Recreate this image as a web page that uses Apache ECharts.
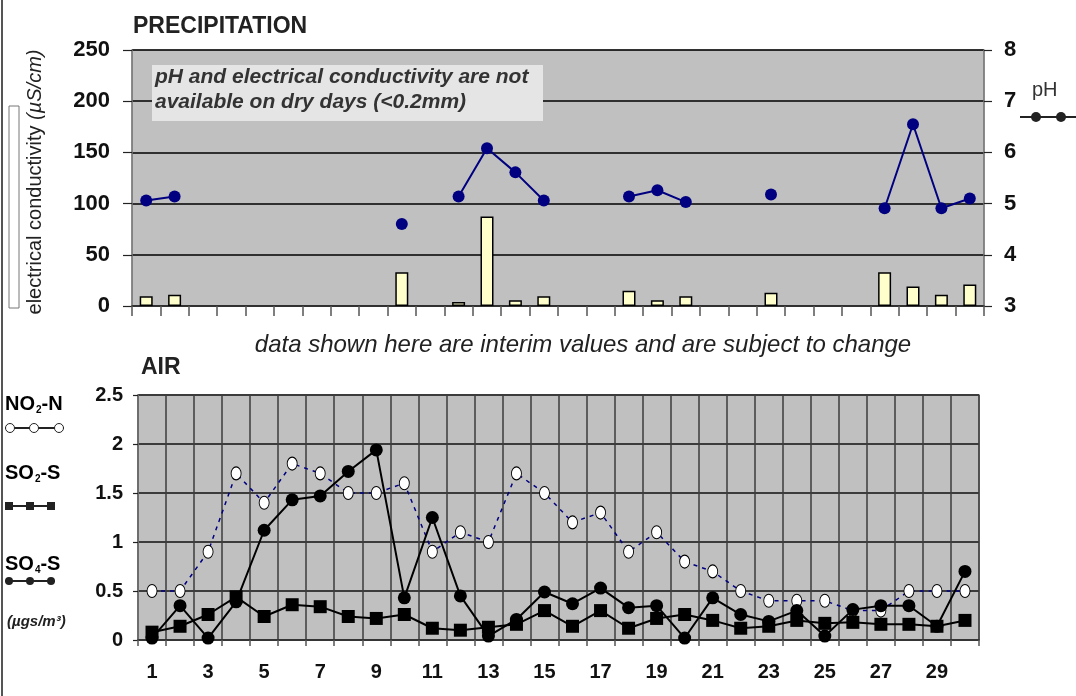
<!DOCTYPE html>
<html><head><meta charset="utf-8">
<script src="https://cdn.jsdelivr.net/npm/echarts@6/dist/echarts.min.js"></script>
<style>html,body{margin:0;padding:0;background:#fff}#c{width:1076px;height:696px}</style>
</head><body><div id="c"></div>
<script>
var days = ['1','2','3','4','5','6','7','8','9','10','11','12','13','14','15','16','17','18','19','20','21','22','23','24','25','26','27','28','29','30'];
var conductivity = [9.5, 11, null, null, null, null, null, null, null, 33, null, 4, 87.5, 5.5, 9.5, null, null, 15, 5.5, 9.5, null, null, 13, null, null, null, 33, 19, 11, 21];
var ph = [5.06, 5.14, null, null, null, null, null, null, null, 4.6, null, 5.14, 6.08, 5.61, 5.06, null, null, 5.14, 5.26, 5.03, null, null, 5.18, null, null, null, 4.91, 6.55, 4.91, 5.10];
var no2 = [0.5, 0.5, 0.9, 1.7, 1.4, 1.8, 1.7, 1.5, 1.5, 1.6, 0.9, 1.1, 1.0, 1.7, 1.5, 1.2, 1.3, 0.9, 1.1, 0.8, 0.7, 0.5, 0.4, 0.4, 0.4, 0.3, 0.3, 0.5, 0.5, 0.5];
var so2 = [0.08, 0.14, 0.26, 0.44, 0.24, 0.36, 0.34, 0.24, 0.22, 0.26, 0.12, 0.10, 0.13, 0.16, 0.30, 0.14, 0.30, 0.12, 0.22, 0.26, 0.20, 0.12, 0.14, 0.20, 0.17, 0.18, 0.16, 0.16, 0.14, 0.20];
var so4 = [0.02, 0.35, 0.02, 0.39, 1.12, 1.43, 1.47, 1.72, 1.94, 0.43, 1.25, 0.45, 0.04, 0.21, 0.49, 0.37, 0.53, 0.33, 0.35, 0.02, 0.43, 0.26, 0.19, 0.30, 0.04, 0.31, 0.35, 0.35, 0.14, 0.70];
var condTicks = {min: 0, max: 250, interval: 50};
var phTicks = {min: 3, max: 8, interval: 1};
var airTicks = {min: 0, max: 2.5, interval: 0.5};

var FONT = 'Arial, "Liberation Sans", Helvetica, sans-serif';
var chart = echarts.init(document.getElementById('c'), null, {renderer: 'canvas'});
var lab = {fontFamily: FONT, fontWeight: 'bold', color: '#111'};

var subRich = {
  b: {fontFamily: FONT, fontWeight: 'bold', fontSize: 20, color: '#222'},
  s: {fontFamily: FONT, fontWeight: 'bold', fontSize: 10, color: '#222', padding: [11, 0, 0, 1]}
};

chart.setOption({
  animation: false,
  backgroundColor: '#fff',
  grid: [
    {left: 132, top: 50, right: 92, height: 256, show: true, backgroundColor: '#c0c0c0', borderColor: '#8a8a8a', borderWidth: 1},
    {left: 138, top: 395, right: 97, height: 245, show: true, backgroundColor: '#c0c0c0', borderColor: '#7a7a7a', borderWidth: 1.5}
  ],
  xAxis: [
    {type: 'category', gridIndex: 0, data: days, boundaryGap: true,
     axisLine: {lineStyle: {color: '#333', width: 1.5}},
     axisTick: {show: true, interval: 0, length: 10, lineStyle: {color: '#555', width: 1.5}},
     axisLabel: {show: false}, splitLine: {show: false}},
    {type: 'category', gridIndex: 1, data: days, boundaryGap: true,
     axisLine: {lineStyle: {color: '#333', width: 1.5}},
     axisTick: {show: true, interval: 0, length: 6, lineStyle: {color: '#555', width: 1.5}},
     axisLabel: Object.assign({interval: 1, fontSize: 20, margin: 22}, lab),
     splitLine: {show: true, interval: 0, lineStyle: {color: '#3c3c3c', width: 1.5}}}
  ],
  yAxis: [
    {type: 'value', gridIndex: 0, min: condTicks.min, max: condTicks.max, interval: condTicks.interval,
     axisLine: {show: true, lineStyle: {color: '#777', width: 1.5}},
     axisTick: {show: true, length: 9, lineStyle: {color: '#222', width: 1.2}},
     axisLabel: Object.assign({fontSize: 22, margin: 22}, lab),
     splitLine: {show: true, lineStyle: {color: '#000', width: 1.5}}},
    {type: 'value', gridIndex: 0, position: 'right', min: phTicks.min, max: phTicks.max, interval: phTicks.interval,
     axisLine: {show: true, lineStyle: {color: '#777', width: 1.5}},
     axisTick: {show: true, length: 8, lineStyle: {color: '#222', width: 1.2}},
     axisLabel: Object.assign({fontSize: 22, margin: 20}, lab),
     splitLine: {show: false}},
    {type: 'value', gridIndex: 1, min: airTicks.min, max: airTicks.max, interval: airTicks.interval,
     axisLine: {show: true, lineStyle: {color: '#777', width: 1.5}},
     axisTick: {show: true, length: 5, lineStyle: {color: '#222', width: 1.2}},
     axisLabel: Object.assign({fontSize: 20, margin: 15}, lab),
     splitLine: {show: true, lineStyle: {color: '#3c3c3c', width: 2}}}
  ],
  series: [
    {name: 'electrical conductivity', type: 'bar', xAxisIndex: 0, yAxisIndex: 0, data: conductivity,
     barWidth: 13, itemStyle: {color: '#ffffcc', borderColor: '#000', borderWidth: 1.5}},
    {name: 'pH', type: 'line', xAxisIndex: 0, yAxisIndex: 1, data: ph, connectNulls: false,
     symbol: 'circle', symbolSize: 12, showAllSymbol: true,
     lineStyle: {color: '#000080', width: 2}, itemStyle: {color: '#000080'}},
    {name: 'NO2-N', type: 'line', xAxisIndex: 1, yAxisIndex: 2, data: no2,
     symbol: 'circle', symbolSize: [10, 13], showAllSymbol: true,
     lineStyle: {color: '#000080', width: 1.5, type: [4, 5]},
     itemStyle: {color: '#fff', borderColor: '#000', borderWidth: 1}},
    {name: 'SO4-S', type: 'line', xAxisIndex: 1, yAxisIndex: 2, data: so4,
     symbol: 'circle', symbolSize: 13, showAllSymbol: true,
     lineStyle: {color: '#000', width: 2}, itemStyle: {color: '#000'}},
    {name: 'SO2-S', type: 'line', xAxisIndex: 1, yAxisIndex: 2, data: so2,
     symbol: 'rect', symbolSize: 13, showAllSymbol: true,
     lineStyle: {color: '#000', width: 2}, itemStyle: {color: '#000'}}
  ],
  graphic: [
    {type: 'line', shape: {x1: 2, y1: 0, x2: 2, y2: 696}, style: {stroke: '#555', lineWidth: 2}},
    {type: 'text', x: 133, y: 27, style: {text: 'PRECIPITATION', font: 'bold 23px ' + FONT, fill: '#222', verticalAlign: 'middle'}},
    {type: 'text', x: 141, y: 368, style: {text: 'AIR', font: 'bold 23px ' + FONT, fill: '#222', verticalAlign: 'middle'}},
    {type: 'text', x: 583, y: 345, style: {text: 'data shown here are interim values and are subject to change', font: 'italic 24px ' + FONT, fill: '#222', align: 'center', verticalAlign: 'middle'}},
    {type: 'rect', shape: {x: 152, y: 65, width: 391, height: 56}, style: {fill: '#e5e5e5'}, z: 100},
    {type: 'text', x: 155, y: 77, z: 101, style: {text: 'pH and electrical conductivity are not', font: 'italic bold 21px ' + FONT, fill: '#333', verticalAlign: 'middle'}},
    {type: 'text', x: 155, y: 102, z: 101, style: {text: 'available on dry days (<0.2mm)', font: 'italic bold 21px ' + FONT, fill: '#333', verticalAlign: 'middle'}},
    {type: 'rect', shape: {x: 9, y: 106, width: 10, height: 202}, style: {fill: '#fff', stroke: '#777', lineWidth: 1}},
    {type: 'text', x: 35, y: 182, rotation: Math.PI / 2, style: {
      text: '{n|electrical conductivity }{i|(µS/cm)}', align: 'center', verticalAlign: 'middle',
      rich: {n: {fontFamily: FONT, fontSize: 20, fill: '#222'}, i: {fontFamily: FONT, fontSize: 20, fontStyle: 'italic', fill: '#222'}}}},
    {type: 'text', x: 1032, y: 90, style: {text: 'pH', font: '20px ' + FONT, fill: '#333', verticalAlign: 'middle'}},
    {type: 'line', shape: {x1: 1020, y1: 117, x2: 1076, y2: 117}, style: {stroke: '#222', lineWidth: 2}},
    {type: 'circle', shape: {cx: 1036, cy: 117, r: 5}, style: {fill: '#222'}},
    {type: 'circle', shape: {cx: 1061, cy: 117, r: 5}, style: {fill: '#222'}},
    {type: 'text', x: 5, y: 394, style: {text: '{b|NO}{s|2}{b|-N}', rich: subRich}},
    {type: 'line', shape: {x1: 5, y1: 428, x2: 64, y2: 428}, style: {stroke: '#222', lineWidth: 2}},
    {type: 'circle', shape: {cx: 10, cy: 428, r: 4.5}, style: {fill: '#fff', stroke: '#222', lineWidth: 1}},
    {type: 'circle', shape: {cx: 34, cy: 428, r: 4.5}, style: {fill: '#fff', stroke: '#222', lineWidth: 1}},
    {type: 'circle', shape: {cx: 59, cy: 428, r: 4.5}, style: {fill: '#fff', stroke: '#222', lineWidth: 1}},
    {type: 'text', x: 5, y: 463, style: {text: '{b|SO}{s|2}{b|-S}', rich: subRich}},
    {type: 'line', shape: {x1: 5, y1: 506, x2: 55, y2: 506}, style: {stroke: '#222', lineWidth: 2}},
    {type: 'rect', shape: {x: 5, y: 502, width: 8, height: 8}, style: {fill: '#222'}},
    {type: 'rect', shape: {x: 26, y: 502, width: 8, height: 8}, style: {fill: '#222'}},
    {type: 'rect', shape: {x: 47, y: 502, width: 8, height: 8}, style: {fill: '#222'}},
    {type: 'text', x: 5, y: 554, style: {text: '{b|SO}{s|4}{b|-S}', rich: subRich}},
    {type: 'line', shape: {x1: 5, y1: 581, x2: 55, y2: 581}, style: {stroke: '#222', lineWidth: 2}},
    {type: 'circle', shape: {cx: 9, cy: 581, r: 4}, style: {fill: '#222'}},
    {type: 'circle', shape: {cx: 30, cy: 581, r: 4}, style: {fill: '#222'}},
    {type: 'circle', shape: {cx: 51, cy: 581, r: 4}, style: {fill: '#222'}},
    {type: 'text', x: 7, y: 622, style: {text: '(µgs/m³)', font: 'italic bold 15px ' + FONT, fill: '#222', verticalAlign: 'middle'}}
  ]
});
</script></body></html>
